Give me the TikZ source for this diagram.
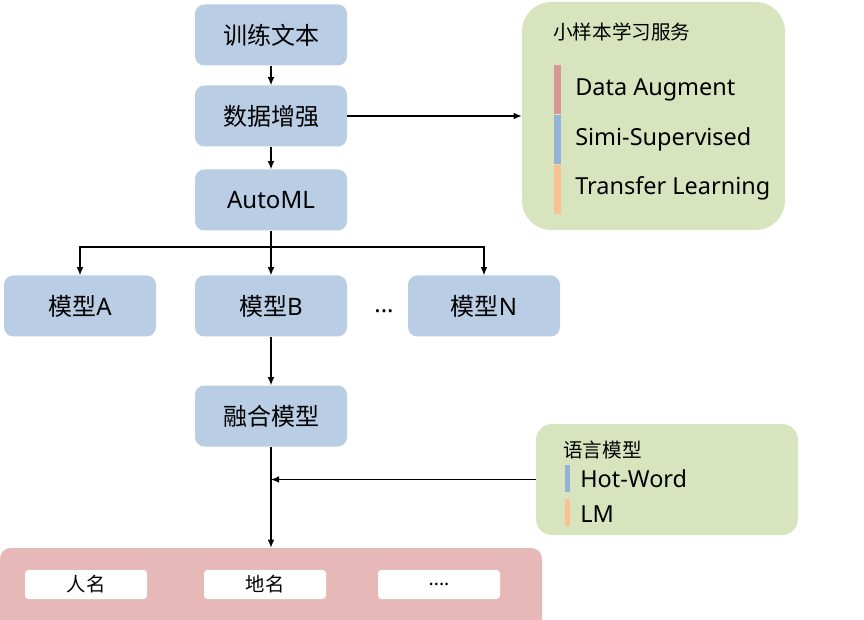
\documentclass[tikz,border=0pt]{standalone}
\usepackage{fontspec}
\setmainfont{Noto Sans}
\newfontfamily\cjk{Noto Sans CJK SC}
\usetikzlibrary{arrows.meta}
\definecolor{boxblue}{RGB}{185,205,228}
\definecolor{boxgreen}{RGB}{215,228,189}
\definecolor{boxred}{RGB}{230,185,184}
\definecolor{barred}{RGB}{217,150,148}
\definecolor{barblue}{RGB}{149,179,215}
\definecolor{barorange}{RGB}{250,192,144}
\tikzset{>={Latex[length=6pt,width=5pt]}}
\tikzset{
  stage/.style={fill=boxblue, rounded corners=7pt, minimum width=114pt,
    minimum height=45.75pt, inner sep=0pt, font=\fontsize{18}{20}\selectfont},
  panel/.style={fill=boxgreen, inner sep=0pt},
  tag/.style={fill=white, rounded corners=2.5pt, minimum width=91.5pt,
    minimum height=21.75pt, inner sep=0pt, font=\fontsize{14.5}{16}\selectfont},
  item/.style={anchor=west, inner sep=0pt, font=\fontsize{17.6}{20}\selectfont},
  flow/.style={line width=0.9pt, ->}
}
\begin{document}
\begin{tikzpicture}[x=0.75pt, y=-0.75pt]
  \useasboundingbox (0,0) rectangle (864,620);

  % pipeline
  \node[stage] (train) at (271,35) {\cjk 训练文本};
  \node[stage] (aug) at (271,116) {\cjk 数据增强};
  \node[stage] (automl) at (271,200) {AutoML};
  \node[stage] (mA) at (80,306) {{\cjk 模型}A};
  \node[stage] (mB) at (271,306) {{\cjk 模型}B};
  \node[stage] (mN) at (484,306) {{\cjk 模型}N};
  \node[font=\fontsize{18}{20}\selectfont] (dots) at (384,311) {...};
  \node[stage] (fuse) at (271,416) {\cjk 融合模型};

  % few-shot service
  \node[panel, rounded corners=22pt, minimum width=197.25pt,
    minimum height=171pt] (svc) at (653.5,116) {};
  \node[anchor=west, inner sep=0pt, font=\cjk\fontsize{14.7}{16}\selectfont]
    (svctitle) at (553,32) {小样本学习服务};
  \fill[barred] (554,65) rectangle (561,114);
  \fill[barblue] (554,115) rectangle (561,164);
  \fill[barorange] (554,165) rectangle (561,214);
  \node[item] (da) at (575,90) {Data Augment};
  \node[item] (ss) at (575,139) {Simi-Supervised};
  \node[item] (tl) at (575,188) {Transfer Learning};

  % language model
  \node[panel, rounded corners=12pt, minimum width=196.5pt,
    minimum height=83.25pt] (lm) at (667,479.5) {};
  \node[anchor=west, inner sep=0pt, font=\cjk\fontsize{14.7}{16}\selectfont]
    (lmtitle) at (563,450) {语言模型};
  \fill[barblue] (565,465) rectangle (570,492);
  \fill[barorange] (565,499) rectangle (570,526);
  \node[item] (hw) at (580,479) {Hot-Word};
  \node[item] (lmw) at (580,514) {LM};

  % output
  \node[fill=boxred, rounded corners=8pt, minimum width=406.5pt,
    minimum height=63pt, inner sep=0pt] (out) at (271,590) {};
  \node[tag] (person) at (86,584.5) {\cjk 人名};
  \node[tag] (place) at (265,584.5) {\cjk 地名};
  \node[tag] (more) at (439,584.5) {....};

  % connectors
  \coordinate (br) at (271,247);
  \draw[flow] (train) -- (aug);
  \draw[flow] (aug) -- (automl);
  \draw[flow] (aug.east |- svc.west) -- (svc.west);
  \draw[flow] (automl) -- (mB);
  \draw[flow, <->] (mA.north) -- (mA.north |- br) -- (mN.north |- br) -- (mN.north);
  \draw[flow] (mB) -- (fuse);
  \draw[flow] (fuse) -- (out);
  \draw[flow] (lm.west) -- (lm.west -| fuse.south);
\end{tikzpicture}
\end{document}
